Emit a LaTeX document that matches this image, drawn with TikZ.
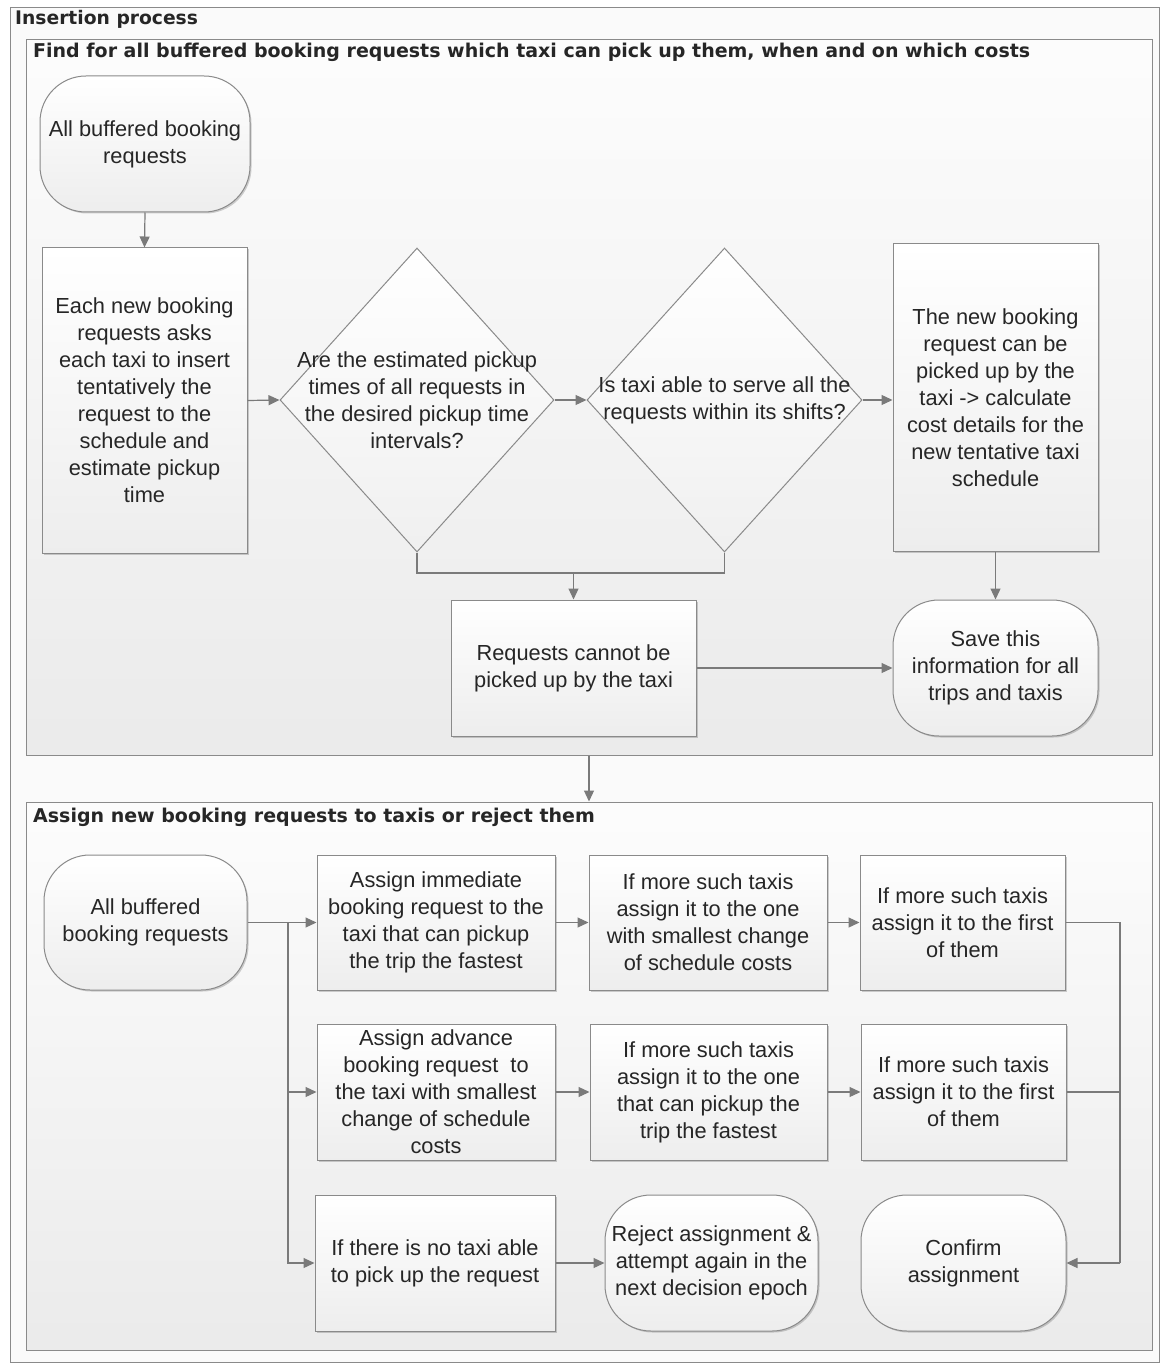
\documentclass[tikz,border=0pt]{standalone}
\usepackage{fontspec}
\setmainfont{Liberation Sans}
\newfontfamily\titlefont{DejaVu Sans}
\usetikzlibrary{arrows.meta,shadows,calc,shapes.geometric}
\definecolor{linegray}{HTML}{8A8A8A}
\definecolor{arrgray}{HTML}{7A7A7A}
\definecolor{txtgray}{HTML}{262626}
\begin{document}
\begin{tikzpicture}[x=1pt,y=-1pt,
  every node/.style={text=txtgray},
  body/.style={font=\fontsize{21.8}{27}\selectfont, align=center},
  shade box/.style={draw=linegray, line width=1pt, top color=white, bottom color=black!7,
    drop shadow={shadow xshift=1.5pt, shadow yshift=-1.5pt, opacity=0.18, fill=black}},
  procbox/.style={shade box, body, rectangle, inner sep=0pt},
  termbox/.style={shade box, body, rectangle, rounded corners=46pt, inner sep=0pt},
  diabox/.style={draw=linegray, line width=1pt, top color=white, bottom color=black!6, shape=diamond, inner sep=0pt},
  pane/.style={draw=linegray, line width=1pt, top color=black!1, bottom color=black!8, rectangle, inner sep=0pt},
  conn/.style={draw=arrgray, line width=1.2pt},
  arr/.style={conn, -{Triangle[length=11pt,width=10pt]}},
  ttl/.style={font=\titlefont\bfseries\fontsize{19}{22}\selectfont, anchor=west, inner sep=0pt}
]
\useasboundingbox (0,0) rectangle (1161,1364);
% outer frame
\node[draw=linegray, line width=1pt, fill=black!2, minimum width=1149pt, minimum height=1354pt, inner sep=0pt] (outer) at (584.5,685) {};
\node[ttl, font=\titlefont\bfseries\fontsize{18.7}{22}\selectfont] (t0) at (15,19) {Insertion process};

% panes
\node[pane, minimum width=1126pt, minimum height=715pt] (pane1) at (589,397.5) {};
\node[ttl] (t1) at (33,52) {Find for all buffered booking requests which taxi can pick up them, when and on which costs};
\node[pane, minimum width=1126pt, minimum height=548pt] (pane2) at (589,1076) {};
\node[ttl] (t2) at (33,817) {Assign new booking requests to taxis or reject them};

% pane 1 nodes
\node[termbox, minimum width=210pt, minimum height=136pt] (s1) at (145,144) {All buffered booking\\requests};
\node[procbox, minimum width=205pt, minimum height=305pt] (p1) at (144.5,400.5) {Each new booking\\requests asks\\each taxi to insert\\tentatively the\\request to the\\schedule and\\estimate pickup\\time};
\node[diabox, minimum width=274pt, minimum height=304pt] (d1) at (417,400) {};
\node[body] (d1t) at (d1.center) {Are the estimated pickup\\times of all requests in\\the desired pickup time\\intervals?};
\node[diabox, minimum width=275pt, minimum height=304pt] (d2) at (724.5,400) {};
\node[body] (d2t) at (d2.center) {Is taxi able to serve all the\\requests within its shifts?};
\node[procbox, minimum width=205pt, minimum height=307pt] (p3) at (995.5,397.5) {The new booking\\request can be\\picked up by the\\taxi -> calculate\\cost details for the\\new tentative taxi\\schedule};
\node[procbox, minimum width=245pt, minimum height=136pt] (p4) at (573.5,668) {Requests cannot be\\picked up by the taxi};
\node[termbox, minimum width=205pt, minimum height=136pt] (s3) at (995.5,668) {Save this\\information for all\\trips and taxis};

% pane 1 connectors
\draw[arr] (s1.south) -- (p1.north);
\draw[arr] (p1.east) -- (d1.west);
\draw[arr] (d1.east) -- (d2.west);
\draw[arr] (d2.east) -- (d2.east -| p3.west);
\coordinate (j1) at (p4.north |- 0,573);
\draw[conn] (d1.south) |- (j1) -| (d2.south);
\draw[arr] (j1) -- (p4.north);
\draw[arr] (p3.south) -- (s3.north);
\draw[arr] (p4.east) -- (s3.west);

% between panes
\draw[arr] (pane1.south) -- (pane2.north);

% pane 2 nodes
\node[termbox, minimum width=203pt, minimum height=135pt] (s2) at (145.5,922.5) {All buffered\\booking requests};
\node[procbox, minimum width=238pt, minimum height=135pt] (a1) at (436,922.5) {Assign immediate\\booking request to the\\taxi that can pickup\\the trip the fastest};
\node[procbox, minimum width=238pt, minimum height=135pt] (a2) at (708,922.5) {If more such taxis\\assign it to the one\\with smallest change\\of schedule costs};
\node[procbox, minimum width=205pt, minimum height=135pt] (a3) at (962.5,922.5) {If more such taxis\\assign it to the first\\of them};
\node[procbox, minimum width=238pt, minimum height=136pt] (b1) at (436,1092) {Assign advance\\booking request\ \ to\\the taxi with smallest\\change of schedule\\costs};
\node[procbox, minimum width=237pt, minimum height=136pt] (b2) at (708.5,1092) {If more such taxis\\assign it to the one\\that can pickup the\\trip the fastest};
\node[procbox, minimum width=205pt, minimum height=136pt] (b3) at (963.5,1092) {If more such taxis\\assign it to the first\\of them};
\node[procbox, minimum width=240pt, minimum height=136pt] (c1) at (435,1263) {If there is no taxi able\\to pick up the request};
\node[termbox, minimum width=213pt, minimum height=136pt] (c2) at (711.5,1263) {Reject assignment \&\\attempt again in the\\next decision epoch};
\node[termbox, minimum width=205pt, minimum height=136pt] (c3) at (963.5,1263) {Confirm\\assignment};

% pane 2 connectors
\coordinate (bl) at (288,922.5);
\coordinate (br) at (1120,1263);
\draw[conn] (s2.east) -- (bl);
\draw[arr] (bl) -- (a1.west);
\draw[arr] (bl) |- (b1.west);
\draw[arr] (bl) |- (c1.west);
\draw[arr] (a1.east) -- (a2.west);
\draw[arr] (a2.east) -- (a3.west);
\draw[arr] (b1.east) -- (b2.west);
\draw[arr] (b2.east) -- (b3.west);
\draw[arr] (c1.east) -- (c2.west);
\draw[conn] (a3.east) -| (br);
\draw[conn] (b3.east) -- (b3.east -| br);
\draw[arr] (br) -- (c3.east);
\end{tikzpicture}
\end{document}
